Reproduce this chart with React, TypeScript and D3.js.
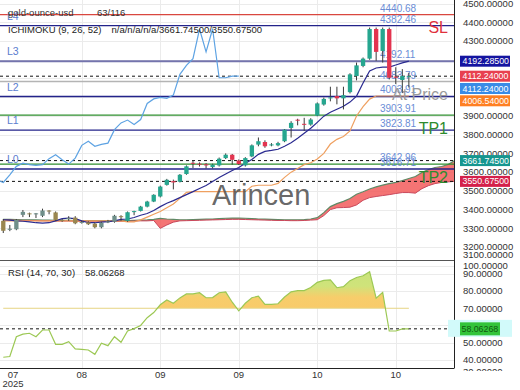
import React from 'react';
import * as d3 from 'd3';

// candles (one per session)
const opens = [
  3340, 3292, 3295, 3372, 3380, 3378, 3367, 3395, 3385, 3345,
  3350, 3357, 3330, 3332, 3325, 3306, 3332, 3335, 3365, 3340,
  3388, 3393, 3416, 3443, 3470, 3532, 3552, 3549, 3590, 3650,
  3645, 3642, 3627, 3636, 3675, 3693, 3662, 3636, 3684, 3747,
  3761, 3745, 3743, 3765, 3836, 3880, 3858, 3854, 3902, 3961,
  3995, 4006, 3994, 4027, 4113, 4167, 4206, 4364, 4247, 4364,
  4110, 4092, 4108
];
const highs = [
  3350, 3318, 3350, 3398, 3384, 3382, 3405, 3397, 3390, 3350,
  3365, 3365, 3340, 3338, 3330, 3335, 3345, 3372, 3370, 3390,
  3394, 3420, 3447, 3482, 3528, 3564, 3560, 3590, 3636, 3662,
  3652, 3648, 3645, 3678, 3700, 3697, 3668, 3680, 3748, 3785,
  3770, 3755, 3762, 3830, 3872, 3885, 3890, 3888, 3972, 3998,
  4056, 4056, 4056, 4128, 4185, 4212, 4372, 4372, 4372, 4372,
  4160, 4150, 4130
];
const lows = [
  3275, 3285, 3290, 3360, 3360, 3355, 3360, 3375, 3340, 3335,
  3340, 3322, 3325, 3318, 3300, 3300, 3328, 3330, 3340, 3335,
  3370, 3390, 3412, 3440, 3465, 3528, 3508, 3545, 3586, 3622,
  3630, 3620, 3620, 3630, 3670, 3640, 3638, 3630, 3680, 3738,
  3730, 3738, 3738, 3760, 3785, 3850, 3820, 3848, 3898, 3955,
  3978, 3962, 3935, 4020, 4090, 4160, 4200, 4194, 4185, 4095,
  4070, 4022, 4052
];
const closes = [
  3287, 3298, 3345, 3388, 3378, 3380, 3395, 3393, 3345, 3340,
  3355, 3327, 3334, 3322, 3306, 3330, 3337, 3367, 3360, 3386,
  3392, 3416, 3443, 3479, 3523, 3559, 3545, 3586, 3631, 3648,
  3640, 3636, 3640, 3672, 3693, 3666, 3643, 3675, 3743, 3765,
  3738, 3748, 3755, 3827, 3863, 3878, 3854, 3881, 3967, 3991,
  3999, 3994, 4011, 4122, 4170, 4206, 4364, 4242, 4364, 4104,
  4104, 4113, 4112.24
];

const tenkan = [
  3346, 3344, 3340, 3338, 3335, 3330, 3328, 3330, 3340, 3352,
  3355, 3352, 3340, 3330, 3330, 3333, 3336, 3340, 3348, 3350,
  3358, 3370, 3379, 3395, 3416, 3434, 3448, 3464, 3480, 3496,
  3513, 3529, 3550, 3571, 3590, 3609, 3625, 3647, 3668, 3695,
  3711, 3716, 3722, 3738, 3757, 3781, 3808, 3834, 3866, 3899,
  3920, 3936, 3952, 3974, 4006, 4076, 4140, 4156, 4161, 4161,
  4172, 4183, 4192.285
];
const kijun = [
  3340, 3340, 3340, 3340, 3340, 3340, 3340, 3340, 3340, 3340,
  3340, 3340, 3340, 3340, 3340, 3340, 3340, 3340, 3340, 3335,
  3335, 3345, 3360, 3375, 3390, 3410, 3430, 3460, 3492, 3496,
  3496, 3496, 3496, 3496, 3496, 3496, 3496, 3496, 3525, 3530,
  3530, 3530, 3540, 3572, 3600, 3620, 3640, 3650, 3670, 3700,
  3750, 3775, 3790, 3820, 3900, 3950, 3990, 4006.54, 4006.54, 4006.54,
  4006.54, 4006.54, 4006.54
];
// cloud, shifted forward so it runs past the last candle
const spanA = [
  3348, 3348, 3347, 3346, 3346, 3345, 3344, 3344, 3343, 3343,
  3343, 3342, 3342, 3342, 3342, 3341, 3341, 3341, 3342, 3342,
  3343, 3344, 3345, 3348, 3353, 3350, 3348, 3346, 3346, 3347,
  3348, 3349, 3350, 3352, 3354, 3355, 3355, 3354, 3352, 3350,
  3349, 3348, 3347, 3346, 3346, 3346, 3347, 3350, 3357, 3384,
  3416, 3432, 3444, 3459, 3482, 3495, 3510, 3521, 3531, 3539,
  3545, 3555, 3566, 3577, 3598, 3614, 3625, 3630, 3641, 3661.745
];
const spanB = [
  3344, 3344, 3343, 3342, 3342, 3341, 3340, 3340, 3339, 3339,
  3339, 3338, 3338, 3338, 3338, 3337, 3337, 3337, 3338, 3338,
  3339, 3340, 3340, 3342, 3300, 3318, 3333, 3340, 3341, 3342,
  3343, 3344, 3345, 3346, 3347, 3348, 3348, 3347, 3346, 3345,
  3344, 3343, 3342, 3342, 3341, 3341, 3342, 3344, 3346, 3368,
  3400, 3410, 3411, 3413, 3425, 3450, 3464, 3470, 3475, 3480,
  3486, 3491, 3491, 3488, 3512, 3528, 3539, 3545, 3548, 3550.675
];

const rsiValues = [
  41.6, 42, 53.5, 55, 55.5, 53.5, 57.4, 57.4, 49.1, 49.1,
  50.6, 46.4, 46.2, 45.8, 43.3, 49.7, 48.3, 53.5, 50.3, 56.8,
  58.2, 60, 64.5, 67.5, 72, 74.8, 72.9, 76, 78.3, 78.3,
  79, 76.1, 76.2, 79, 79.5, 73.5, 68.5, 72.9, 76.1, 77,
  72.3, 72.3, 72.6, 76.5, 79.5, 80.2, 80.2, 82, 85, 86.2,
  86.4, 81.9, 82.5, 86, 87.8, 88.8, 91.2, 75.8, 79.2, 56.8,
  56.8, 58, 58.06268
];

const priceTicks = [4500, 4400, 4300, 4200, 4100, 4000, 3900, 3800, 3700, 3600, 3500, 3400, 3300, 3200, 3100];
const rsiTicks = [100, 90, 80, 70, 60, 50, 40, 30];
const dateTicks = [0, 12, 24, 36, 48, 60];
const dateLabels = ['07', '08', '09', '09', '10', '10'];

const levelPrices = [4440.68, 4382.46, 4192.11, 4083.79, 4003.91, 3903.91, 3823.81, 3642.96, 3616.71];
const levelTags = ['SL', 'L4', 'L3', '', 'L2', 'TP1', 'L1', 'TP2', 'L0'];

const FONT = "'Liberation Sans', Arial, Helvetica, sans-serif";

const levelStyle = (tag: string) => {
  if (tag === 'SL') return { stroke: '#d9473f', width: 1.3 };
  if (tag.startsWith('TP')) return { stroke: '#2f8f2f', width: 1.2 };
  if (tag === 'L3') return { stroke: '#7474ad', width: 2.2 };
  if (tag === '') return { stroke: '#b4b4b4', width: 1.6 };
  return { stroke: '#23238a', width: 1.3 };
};

const fmt = (v: number) => v.toFixed(5);

export default function App() {
  const plotR = 454;
  const mainTop = 0;
  const mainBottom = 260;
  const rsiTop = 260;
  const rsiBottom = 368;

  const x = d3.scaleLinear().domain([-0.5, 68.9]).range([0, plotR]);
  const y = d3.scaleLinear().domain([3131, 4519]).range([mainBottom, mainTop]);
  const yr = d3.scaleLinear().domain([35.36, 97.97]).range([rsiBottom, rsiTop]);

  const last = closes.length - 1;
  const step = x(1) - x(0);
  const bodyW = step * 0.66;

  const cloudArea = d3.area<number>()
    .x((d, i) => x(i))
    .y0((d, i) => y(spanB[i]))
    .y1(d => y(d));
  const lineOf = (arr: number[]) => d3.line<number>().x((d, i) => x(i)).y(d => y(d))(arr) || '';
  const chikouPts = closes.map((c, i) => [x(i - 26), y(c)] as [number, number]).filter((p, i) => i >= 25);
  const chikouPath = d3.line()(chikouPts) || '';

  const rsiLine = d3.line<number>().x((d, i) => x(i)).y(d => yr(d))(rsiValues) || '';
  const rsiArea = d3.area<number>().x((d, i) => x(i)).y0(yr(70)).y1(d => yr(d))(rsiValues) || '';

  // right-axis value boxes, pushed down so they do not overlap
  const boxes = [
    { v: tenkan[last], fill: '#1414a0' },
    { v: closes[last], fill: '#e8404f' },
    { v: closes[last], fill: '#3a8be6' },
    { v: kijun[last], fill: '#ff7f22' },
    { v: spanA[spanA.length - 1], fill: '#16968f' },
    { v: spanB[spanB.length - 1], fill: '#d4204a' },
  ];
  let prevY = -100;
  const placed = boxes.map(b => {
    const cy = Math.max(y(b.v), prevY + 12.3);
    prevY = cy;
    return { ...b, cy };
  });
  // tick labels fully hidden under a value box are not drawn
  const hidden = (ty: number) => placed.some(b => Math.abs(b.cy - ty) < 6);
  const rsiLast = rsiValues[last];

  const gradTop = rsiTop;
  const gradBot = yr(70);

  return (
    <svg width={520} height={390} style={{ position: 'absolute', left: 0, top: 0, background: '#fff' }} fontFamily={FONT}>
      <defs>
        <clipPath id="mainClip"><rect x={0} y={mainTop} width={plotR} height={mainBottom - mainTop} /></clipPath>
        <clipPath id="rsiClip"><rect x={0} y={rsiTop} width={plotR} height={rsiBottom - rsiTop} /></clipPath>
        <clipPath id="rsiUpper"><rect x={0} y={rsiTop} width={plotR} height={yr(70) - rsiTop} /></clipPath>
        <clipPath id="rsiAxisClip"><rect x={455} y={rsiTop + 1} width={65} height={110} /></clipPath>
        <linearGradient id="rsiFill" gradientUnits="userSpaceOnUse" x1={0} y1={gradTop} x2={0} y2={gradBot}>
          <stop offset="0" stopColor="#c6e27c" />
          <stop offset="0.54" stopColor="#cfe37a" />
          <stop offset="0.77" stopColor="#f7cd6b" />
          <stop offset="1" stopColor="#f8cb6a" />
        </linearGradient>
      </defs>

      {/* grid */}
      <g stroke="#ebebeb" strokeWidth={1}>
        {priceTicks.map(t => (
          <line key={'pg' + t} x1={0} x2={plotR} y1={Math.round(y(t)) + 0.5} y2={Math.round(y(t)) + 0.5} />
        ))}
        {[40, 50, 60, 80, 90].map(t => (
          <line key={'rg' + t} x1={0} x2={plotR} y1={Math.round(yr(t)) + 0.5} y2={Math.round(yr(t)) + 0.5} />
        ))}
        {dateTicks.slice(1).map(i => (
          <line key={'vg' + i} x1={Math.round(x(i)) + 0.5} x2={Math.round(x(i)) + 0.5} y1={0} y2={rsiBottom} />
        ))}
      </g>

      <g clipPath="url(#mainClip)">
        {/* cloud */}
        <path d={cloudArea(spanA) || ''} fill="#f25c5c" fillOpacity={0.85} />
        <path d={lineOf(spanA)} fill="none" stroke="#5f8a66" strokeWidth={1.2} />
        <path d={lineOf(spanB)} fill="none" stroke="#c9485b" strokeWidth={1} />

        {/* levels */}
        {levelPrices.map((p, i) => {
          const s = levelStyle(levelTags[i]);
          return <line key={'lv' + i} x1={0} x2={plotR} y1={y(p)} y2={y(p)} stroke={s.stroke} strokeWidth={s.width} />;
        })}
        {[closes[last], spanA[spanA.length - 1], spanB[spanB.length - 1]].map((p, i) => (
          <line key={'dl' + i} x1={0} x2={plotR} y1={y(p)} y2={y(p)} stroke="#111" strokeWidth={1} strokeDasharray="3,3" />
        ))}
        {levelPrices.map((p, i) => (
          <text key={'lt' + i} x={380} y={y(p) - 6.5} dy="0.35em" fontSize={10} fill="#6a8dd6">{p.toFixed(2)}</text>
        ))}
        {levelTags.map((t, i) => (t.startsWith('L') ?
          <text key={'ln' + i} x={7} y={y(levelPrices[i]) - 9.5} dy="0.35em" fontSize={10.5} fill="#5b7dcf">{t}</text> : null
        ))}

        {/* indicator lines */}
        <path d={lineOf(kijun)} fill="none" stroke="#efa060" strokeWidth={1.2} />
        <path d={lineOf(tenkan)} fill="none" stroke="#2a2a90" strokeWidth={1.2} />
        <path d={chikouPath} fill="none" stroke="#5ea3e3" strokeWidth={1.2} />

        {/* candles */}
        {closes.map((c, i) => {
          const up = c >= opens[i];
          const muted = i < 19;
          const col = up ? (muted ? '#6f8f8a' : '#26a68f') : (muted ? '#9a8750' : '#e3344f');
          const top = y(Math.max(opens[i], c));
          const h = Math.max(1, Math.abs(y(opens[i]) - y(c)));
          const cx = x(i);
          return (
            <g key={'c' + i}>
              <line x1={cx} x2={cx} y1={y(highs[i])} y2={y(lows[i])} stroke="#3a3a3a" strokeWidth={1} />
              <rect x={cx - bodyW / 2} y={top} width={bodyW} height={h} fill={col} />
            </g>
          );
        })}

        {/* tags and watermark */}
        {levelTags.map((t, i) => (t === 'SL' || t.startsWith('TP') ?
          <text key={'bt' + i} x={448} y={y(levelPrices[i]) + 18.6} textAnchor="end" fontSize={16}
            fill={t === 'SL' ? '#e0303c' : '#2e8b2e'}>{t}</text> : null
        ))}
        <text x={448} y={100} textAnchor="end" fontSize={16} fill="#9a9a9a">At Price</text>
        <text x={212} y={205} fontSize={29} fill="#555" fillOpacity={0.9}>Arincen</text>
      </g>

      {/* headers */}
      <text x={8} y={15.5} fontSize={9.5} fill="#333">gold-ounce-usd</text>
      <text x={97} y={15.5} fontSize={9.5} fill="#333">63/116</text>
      <text x={8} y={32.5} fontSize={9.5} fill="#222">ICHIMOKU (9, 26, 52)</text>
      <text x={111.5} y={32.5} fontSize={9.5} fill="#222">{`n/a/n/a/n/a/${fmt(spanA[spanA.length - 1])}/${fmt(spanB[spanB.length - 1])}`}</text>

      {/* RSI panel */}
      <g clipPath="url(#rsiClip)">
        <path d={rsiArea} fill="url(#rsiFill)" clipPath="url(#rsiUpper)" />
        <line x1={x(0)} x2={x(last)} y1={yr(70)} y2={yr(70)} stroke="#e6d68a" strokeWidth={1.2} />
        <line x1={0} x2={plotR} y1={yr(rsiLast)} y2={yr(rsiLast)} stroke="#111" strokeDasharray="3,3" />
        <path d={rsiLine} fill="none" stroke="#9cc854" strokeWidth={1.2} />
      </g>
      <text x={8} y={276} fontSize={9.5} fill="#222">RSI (14, 70, 30)</text>
      <text x={85} y={276} fontSize={9.5} fill="#222">{rsiLast.toFixed(5)}</text>

      {/* frame */}
      <line x1={0} x2={plotR} y1={260.5} y2={260.5} stroke="#555" />
      <line x1={0} x2={plotR} y1={rsiBottom + 0.5} y2={rsiBottom + 0.5} stroke="#222" />
      <line x1={plotR + 0.5} x2={plotR + 0.5} y1={0} y2={rsiBottom + 0.5} stroke="#222" />

      {/* price axis */}
      {priceTicks.filter(t => !hidden(y(t))).map(t => (
        <text key={'pt' + t} x={463} y={Math.min(y(t), 255)} dy="0.35em" fontSize={9.5} fill="#333">{fmt(t)}</text>
      ))}
      {placed.map((b, i) => (
        <g key={'bx' + i}>
          <rect x={460} y={b.cy - 5.5} width={50} height={11} fill={b.fill} />
          <text x={462.5} y={b.cy} dy="0.35em" fontSize={8.8} fill="#fff">{fmt(b.v)}</text>
        </g>
      ))}

      {/* rsi axis */}
      <g clipPath="url(#rsiAxisClip)">
        {rsiTicks.filter(t => Math.abs(yr(t) - yr(rsiLast)) > 6).map(t => (
          <text key={'rt' + t} x={463} y={Math.min(Math.max(yr(t), 266), 372)} dy="0.35em" fontSize={9.5} fill="#333">{fmt(t)}</text>
        ))}
      </g>
      <rect x={448} y={yr(rsiLast) - 9} width={64} height={17} fill="#d2fafa" />
      <rect x={460} y={yr(rsiLast) - 6.5} width={40} height={13} fill="#33c43a" />
      <text x={461.5} y={yr(rsiLast)} dy="0.35em" fontSize={8.8} fill="#0f5a0f">{rsiLast.toFixed(5)}</text>

      {/* date axis */}
      {dateTicks.map((i, k) => (
        <text key={'dt' + i} x={k === 0 ? 13 : x(i)} y={377.5} textAnchor="middle" fontSize={9.5} fill="#333">{dateLabels[k]}</text>
      ))}
      <text x={13} y={387} textAnchor="middle" fontSize={9.5} fill="#333">2025</text>
    </svg>
  );
}
